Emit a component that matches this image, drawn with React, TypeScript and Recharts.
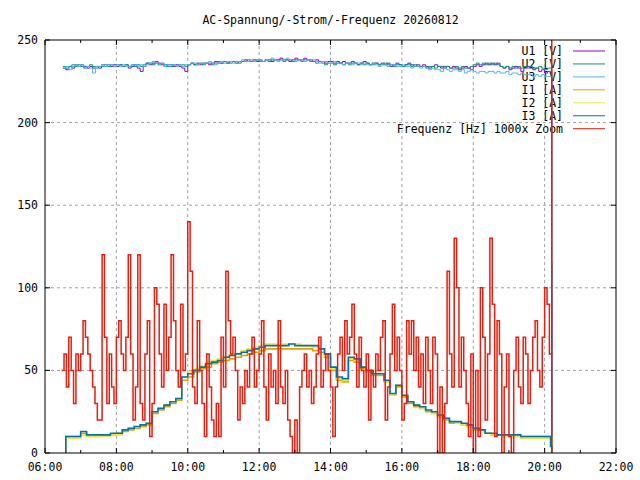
import { ComposedChart, Line, XAxis, YAxis, CartesianGrid } from "recharts";

const FONT = '"DejaVu Sans Mono", "Liberation Mono", monospace';
const FONT_SIZE = 11.5;

// times are minutes after midnight
const freqTimes = [
  388, 392, 396, 400, 404, 408, 412, 416, 420, 424, 428, 432, 436, 440, 444, 448, 452, 456, 460, 464,
  468, 472, 476, 480, 484, 488, 492, 496, 500, 504, 508, 512, 516, 520, 524, 528, 532, 536, 540, 544,
  548, 552, 556, 560, 564, 568, 572, 576, 580, 584, 588, 592, 596, 600, 604, 608, 612, 616, 620, 624,
  628, 632, 636, 640, 644, 648, 652, 656, 660, 664, 668, 672, 676, 680, 684, 688, 692, 696, 700, 704,
  708, 712, 716, 720, 724, 728, 732, 736, 740, 744, 748, 752, 756, 760, 764, 768, 772, 776, 780, 784,
  788, 792, 796, 800, 804, 808, 812, 816, 820, 824, 828, 832, 836, 840, 844, 848, 852, 856, 860, 864,
  868, 872, 876, 880, 884, 888, 892, 896, 900, 904, 908, 912, 916, 920, 924, 928, 932, 936, 940, 944,
  948, 952, 956, 960, 964, 968, 972, 976, 980, 984, 988, 992, 996, 1000, 1004, 1008, 1012, 1016, 1020, 1024,
  1028, 1032, 1036, 1040, 1044, 1048, 1052, 1056, 1060, 1064, 1068, 1072, 1076, 1080, 1084, 1088, 1092, 1096, 1100, 1104,
  1108, 1112, 1116, 1120, 1124, 1128, 1132, 1136, 1140, 1144, 1148, 1152, 1156, 1160, 1164, 1168, 1172, 1176, 1180, 1184,
  1188, 1192, 1196, 1200, 1204, 1208, 1212, 1212,
];
const freqValues = [
  50, 60, 40, 70, 50, 30, 60, 50, 60, 80,
  70, 60, 50, 40, 30, 20, 20, 120, 70, 30,
  60, 40, 30, 70, 80, 60, 50, 70, 120, 60,
  20, 40, 120, 30, 20, 60, 80, 10, 30,
  100, 90, 60, 40, 90, 50, 70, 120, 80, 50, 40,
  90, 50, 60, 140, 110, 40, 30, 80, 50, 30,
  10, 60, 40, 20, 10, 30, 10, 70, 40, 110,
  80, 60, 70, 50, 20, 40, 30, 50, 40, 60, 70, 40,
  50, 60, 80, 40, 20, 60, 40, 50, 30, 80,
  40, 30, 50, 20, 10, 0, 20, 0, 40, 50,
  60, 40, 50, 30, 40, 60, 70, 40, 50, 60,
  50, 40, 10, 40, 60, 70, 50, 80, 60, 70, 90, 60,
  40, 70, 50, 40, 60, 20, 50, 40, 60, 50,
  70, 80, 20, 40, 60, 90, 50, 70, 50, 20,
  30, 80, 60, 80, 50, 70, 40, 60, 30, 70,
  50, 30, 70, 60, 0, 40, 0, 30, 110, 60, 40, 130,
  100, 40, 70, 50, 30, 10, 60, 0, 50, 10,
  100, 70, 20, 60, 130, 90, 10, 80, 60, 0,
  40, 60, 10, 0, 50, 70, 40, 30, 70, 60,
  30, 50, 70, 80, 50, 40, 70, 100, 90, 60,
  1000, -100,
];

const voltTimes = [
  390, 395, 400, 405, 410, 415, 420, 425, 430, 435, 440, 445,
  450, 455, 460, 465, 470, 475, 480, 485, 490, 495, 500, 505,
  510, 515, 520, 525, 530, 535, 540, 545, 550, 555, 560, 565,
  570, 575, 580, 585, 590, 595, 600, 605, 610, 615, 620, 625,
  630, 635, 640, 645, 650, 655, 660, 665, 670, 675, 680, 685,
  690, 695, 700, 705, 710, 715, 720, 725, 730, 735, 740, 745,
  750, 755, 760, 765, 770, 775, 780, 785, 790, 795, 800, 805,
  810, 815, 820, 825, 830, 835, 840, 845, 850, 855, 860, 865,
  870, 875, 880, 885, 890, 895, 900, 905, 910, 915, 920, 925,
  930, 935, 940, 945, 950, 955, 960, 965, 970, 975, 980, 985,
  990, 995, 1000, 1005, 1010, 1015, 1020, 1025, 1030, 1035, 1040, 1045,
  1050, 1055, 1060, 1065, 1070, 1075, 1080, 1085, 1090, 1095, 1100, 1105,
  1110, 1115, 1120, 1125, 1130, 1135, 1140, 1145, 1150, 1155, 1160, 1165,
  1170, 1175, 1180, 1185, 1190, 1195, 1200, 1205, 1210, 1212, 1212.5,
];
const u1 = [
  233, 232, 234, 233, 235, 234, 235, 234, 233, 234, 233, 234,
  233, 235, 234, 235, 234, 235, 234, 235, 234, 235, 233, 234,
  235, 233, 231, 234, 236, 235, 236, 237, 236, 235, 234, 235,
  235, 234, 235, 234, 233, 231, 235, 236, 235, 236, 235, 236,
  236, 235, 236, 237, 236, 236, 237, 236, 237, 237, 236, 237,
  237, 238, 237, 237, 238, 237, 238, 237, 238, 238, 237, 238,
  238, 239, 238, 238, 237, 238, 239, 238, 238, 239, 238, 238,
  237, 238, 237, 237, 236, 237, 237, 236, 237, 236, 237, 236,
  236, 237, 236, 235, 236, 237, 236, 235, 236, 236, 235, 236,
  235, 236, 234, 235, 236, 235, 234, 235, 236, 235, 234, 235,
  234, 235, 234, 233, 234, 235, 234, 233, 234, 234, 233, 234,
  233, 232, 233, 234, 233, 232, 234, 235, 234, 235, 236, 235,
  236, 235, 236, 234, 233, 234, 232, 233, 234, 233, 231, 233,
  234, 233, 232, 233, 231, 232, 230, 231, 231, 116, 0,
];
const u2 = [
  234, 233, 234, 235, 234, 235, 234, 233, 234, 235, 234, 233,
  234, 234, 235, 234, 235, 234, 235, 235, 234, 235, 234, 235,
  234, 235, 234, 235, 236, 236, 235, 236, 235, 236, 235, 234,
  234, 235, 234, 235, 235, 234, 235, 236, 235, 235, 236, 235,
  236, 236, 235, 236, 237, 236, 237, 236, 236, 237, 237, 236,
  237, 237, 238, 237, 237, 238, 237, 237, 238, 237, 238, 238,
  238, 238, 237, 238, 238, 237, 238, 238, 237, 238, 238, 237,
  237, 236, 237, 236, 235, 236, 236, 235, 236, 236, 235, 236,
  235, 236, 236, 235, 236, 235, 236, 235, 235, 236, 235, 235,
  236, 235, 235, 234, 235, 235, 234, 235, 235, 234, 235, 234,
  234, 234, 233, 234, 234, 233, 234, 234, 233, 234, 233, 233,
  234, 233, 234, 233, 233, 234, 235, 236, 235, 236, 235, 236,
  235, 236, 235, 234, 233, 234, 233, 234, 233, 234, 233, 234,
  233, 234, 233, 233, 234, 233, 232, 233, 233, 116, 0,
];
const u3 = [
  233, 234, 232, 234, 235, 234, 235, 233, 234, 233, 230, 234,
  234, 235, 234, 235, 235, 234, 235, 234, 235, 234, 234, 235,
  235, 234, 235, 234, 235, 236, 237, 236, 235, 236, 234, 235,
  235, 235, 234, 235, 234, 235, 235, 236, 236, 235, 236, 236,
  236, 237, 236, 235, 236, 237, 236, 237, 237, 236, 237, 237,
  238, 237, 237, 238, 237, 238, 238, 237, 238, 238, 239, 238,
  237, 238, 238, 239, 238, 238, 237, 238, 238, 237, 238, 238,
  238, 237, 236, 237, 237, 236, 236, 237, 236, 236, 235, 236,
  236, 235, 236, 236, 235, 236, 235, 235, 236, 235, 234, 235,
  235, 234, 235, 235, 234, 234, 235, 234, 234, 233, 234, 234,
  233, 234, 233, 232, 233, 232, 232, 231, 233, 232, 231, 232,
  232, 231, 232, 230, 231, 232, 231, 230, 231, 231, 230, 231,
  231, 230, 231, 230, 230, 231, 229, 230, 230, 229, 230, 229,
  229, 229, 228, 229, 228, 229, 228, 228, 228, 116, 0,
];

const currentTimes = [
  394, 395,
  400, 410, 420, 430, 440, 450, 460, 470, 480, 490,
  500, 510, 520, 530, 540, 550, 560, 570, 580, 590,
  600, 610, 620, 630, 640, 650, 660, 670, 680, 690,
  700, 710, 720, 730, 740, 750, 760, 770, 780, 790,
  800, 810, 820, 830, 840, 850, 860, 870, 880, 890,
  900, 910, 920, 930, 940, 950, 960, 970, 980, 990,
  1000, 1010, 1020, 1030, 1040, 1050, 1060, 1070, 1080, 1090,
  1100, 1110, 1120, 1130, 1140, 1150, 1160, 1170, 1180, 1190,
  1200, 1210, 1212,
];
const i1 = [
  0, 10,
  10, 10, 12, 10, 10, 11, 11, 11, 12, 13,
  14, 15, 16, 17, 24, 26, 28, 30, 32, 44,
  46, 49, 51, 52, 54, 55, 56, 57, 58, 59,
  60, 61, 62, 63, 63, 63, 63, 63, 63, 63,
  63, 62, 61, 58, 50, 44, 43, 56, 55, 51,
  49, 47, 47, 43, 35, 40, 34, 30, 28, 27,
  25, 24, 22, 20, 18, 18, 17, 16, 14, 13,
  12, 11, 11, 10, 10, 10, 10, 10, 10, 10,
  10, 9, 0,
];
const i2 = [
  0, 10,
  9, 9, 11, 10, 10, 10, 10, 11, 11, 14,
  15, 16, 17, 18, 25, 27, 29, 31, 33, 46,
  49, 51, 53, 55, 56, 57, 58, 59, 60, 62,
  63, 64, 65, 66, 66, 65, 66, 66, 66, 65,
  65, 64, 63, 59, 51, 45, 44, 57, 56, 52,
  50, 48, 48, 43, 35, 41, 35, 31, 29, 27,
  26, 24, 22, 21, 19, 18, 17, 16, 15, 13,
  12, 11, 11, 10, 10, 10, 9, 9, 9, 9,
  9, 9, 0,
];
const i3 = [
  0, 10,
  10, 10, 13, 11, 11, 11, 11, 12, 12, 14,
  15, 16, 17, 18, 25, 27, 29, 31, 33, 46,
  48, 50, 52, 54, 55, 56, 58, 59, 60, 61,
  62, 63, 64, 65, 65, 65, 65, 66, 65, 65,
  65, 65, 63, 60, 52, 46, 45, 58, 57, 52,
  50, 48, 48, 44, 36, 41, 35, 31, 29, 28,
  26, 25, 23, 21, 19, 19, 18, 17, 15, 14,
  12, 12, 11, 11, 11, 11, 10, 10, 10, 10,
  10, 4, 0,
];

const hourTicks = [360, 420, 480, 540, 600, 660, 720, 780, 840, 900, 960, 1020, 1080, 1140, 1200, 1260, 1320];
const gridMinutes = [480, 600, 720, 840, 960, 1080, 1200];
const yTicks = [0, 50, 100, 150, 200, 250];

const series = [
  { name: "U1 [V]", color: "#9400d3", width: 1, times: voltTimes, values: u1 },
  { name: "U2 [V]", color: "#009e73", width: 1, times: voltTimes, values: u2 },
  { name: "U3 [V]", color: "#56b4e9", width: 1, times: voltTimes, values: u3 },
  { name: "I1 [A]", color: "#e69f00", width: 1.6, times: currentTimes, values: i1 },
  { name: "I2 [A]", color: "#f0e442", width: 1.6, times: currentTimes, values: i2 },
  { name: "I3 [A]", color: "#0072b2", width: 1.6, times: currentTimes, values: i3 },
  { name: "Frequenz [Hz] 1000x Zoom", color: "#e51e10", width: 1.5, times: freqTimes, values: freqValues },
];

const toPoints = (times: number[], values: number[]) => times.map((t, i) => ({ t, v: values[i] }));

const fmtTime = (m: number) =>
  `${String(Math.floor(m / 60)).padStart(2, "0")}:${String(m % 60).padStart(2, "0")}`;

const textProps = { fontFamily: FONT, fontSize: FONT_SIZE, fill: "#000" };

function BottomTick({ x, y, payload }: any) {
  const major = payload.value % 120 === 0;
  return (
    <g>
      <line x1={x} y1={y} x2={x} y2={y - (major ? 5 : 3)} stroke="#000" />
      {major && (
        <text x={x} y={y + 18} textAnchor="middle" {...textProps}>
          {fmtTime(payload.value)}
        </text>
      )}
    </g>
  );
}

function TopTick({ x, y, payload }: any) {
  const major = payload.value % 120 === 0;
  return <line x1={x} y1={y} x2={x} y2={y + (major ? 5 : 3)} stroke="#000" />;
}

function LeftTick({ x, y, payload }: any) {
  return (
    <g>
      <line x1={x} y1={y} x2={x + 5} y2={y} stroke="#000" />
      <text x={x - 7} y={y + 4} textAnchor="end" {...textProps}>
        {payload.value}
      </text>
    </g>
  );
}

function RightTick({ x, y }: any) {
  return <line x1={x} y1={y} x2={x - 5} y2={y} stroke="#000" />;
}

export default function App() {
  return (
    <div style={{ position: "absolute", left: 0, top: 0, width: 640, height: 480, background: "#fff" }}>
      <svg width={640} height={480} style={{ position: "absolute", left: 0, top: 0 }}>
        <text x={330.5} y={24} textAnchor="middle" {...textProps}>
          AC-Spannung/-Strom/-Frequenz 20260812
        </text>
        {series.map((s, i) => (
          <g key={s.name}>
            <text x={563} y={55 + i * 12.95} textAnchor="end" {...textProps}>
              {s.name}
            </text>
            <line x1={573} x2={605} y1={51 + i * 12.95} y2={51 + i * 12.95} stroke={s.color} strokeWidth={1} />
          </g>
        ))}
      </svg>
      <div style={{ position: "absolute", left: 0, top: 0 }}>
        <ComposedChart width={640} height={480} margin={{ top: 39, right: 23, bottom: 0, left: 0 }}>
          <CartesianGrid
            stroke="#a0a0a0"
            strokeDasharray="3 3"
            verticalValues={gridMinutes}
            horizontalValues={[50, 100, 150, 200]}
          />
          <XAxis
            dataKey="t"
            type="number"
            domain={[360, 1320]}
            ticks={hourTicks}
            interval={0}
            allowDataOverflow
            height={27}
            tickSize={0}
            tickMargin={0}
            tickLine={false}
            axisLine={{ stroke: "#000" }}
            tick={BottomTick}
          />
          <XAxis
            xAxisId="top"
            orientation="top"
            dataKey="t"
            type="number"
            domain={[360, 1320]}
            ticks={hourTicks}
            interval={0}
            allowDataOverflow
            height={1}
            tickSize={0}
            tickMargin={0}
            tickLine={false}
            axisLine={{ stroke: "#000" }}
            tick={TopTick}
          />
          <YAxis
            type="number"
            domain={[0, 250]}
            ticks={yTicks}
            interval={0}
            allowDataOverflow
            width={45}
            tickSize={0}
            tickMargin={0}
            tickLine={false}
            axisLine={{ stroke: "#000" }}
            tick={LeftTick}
          />
          <YAxis
            yAxisId="right"
            orientation="right"
            type="number"
            domain={[0, 250]}
            ticks={yTicks}
            interval={0}
            allowDataOverflow
            width={1}
            tickSize={0}
            tickMargin={0}
            tickLine={false}
            axisLine={{ stroke: "#000" }}
            tick={RightTick}
          />
          {series.map((s) => (
            <Line
              key={s.name}
              data={toPoints(s.times, s.values)}
              dataKey="v"
              name={s.name}
              type="stepAfter"
              stroke={s.color}
              strokeWidth={s.width}
              dot={false}
              activeDot={false}
              isAnimationActive={false}
            />
          ))}
        </ComposedChart>
      </div>
    </div>
  );
}
